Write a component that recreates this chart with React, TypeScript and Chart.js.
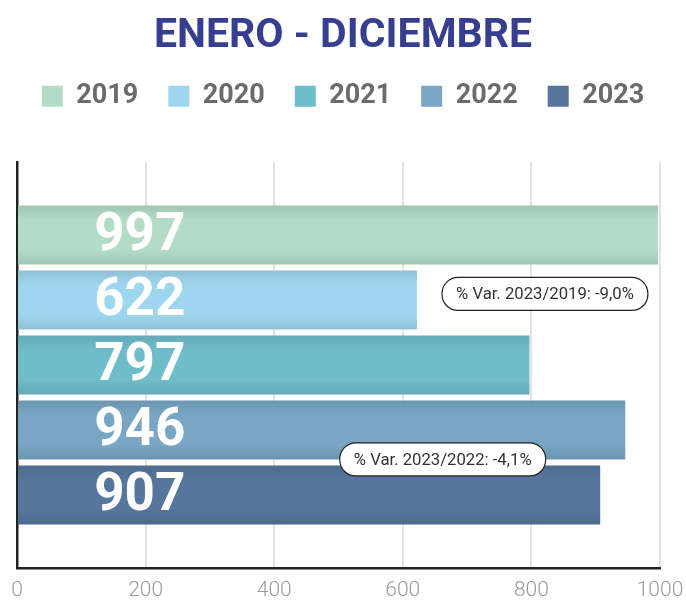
import React, { useEffect, useRef } from "react";
import { Chart, registerables } from "chart.js";

Chart.register(...registerables);

const categories = ["Enero - Diciembre"];
const years = ["2019", "2020", "2021", "2022", "2023"];
const values = [997, 622, 797, 946, 907];
const colors = ["#b3dcc6", "#9fd6ef", "#6fbccb", "#78a6c4", "#55769d"];
const xTicks = [0, 200, 400, 600, 800, 1000];
const titleText = "ENERO - DICIEMBRE";
const notes = ["% Var. 2023/2019: -9,0%", "% Var. 2023/2022: -4,1%"];

function shade(hex: string, f: number) {
  const n = parseInt(hex.slice(1), 16);
  const r = (n >> 16) & 255, g = (n >> 8) & 255, b = n & 255;
  const m = (c: number) => Math.max(0, Math.min(255, Math.round(c * f)));
  return `rgb(${m(r)},${m(g)},${m(b)})`;
}

const legendSpacePlugin = {
  id: "legendSpace",
  beforeUpdate(chart: any) {
    const lg = chart.legend;
    if (lg && !lg._patched) {
      const f = lg.fit.bind(lg);
      lg.fit = () => {
        f();
        lg.height += 42;
      };
      lg._patched = true;
    }
  },
};

const gradientPlugin = {
  id: "barGradient",
  beforeDatasetsDraw(chart: any) {
    const ctx = chart.ctx;
    chart.data.datasets.forEach((ds: any, i: number) => {
      const meta = chart.getDatasetMeta(i);
      meta.data.forEach((el: any) => {
        const top = el.y - el.height / 2;
        const bot = el.y + el.height / 2;
        const g = ctx.createLinearGradient(0, top, 0, bot);
        const c = colors[i];
        g.addColorStop(0, shade(c, 0.9));
        g.addColorStop(0.25, c);
        g.addColorStop(0.75, c);
        g.addColorStop(1, shade(c, 0.9));
        el.options.backgroundColor = g;
      });
    });
  },
};

const labelPlugin = {
  id: "valueLabels",
  afterDatasetsDraw(chart: any) {
    const ctx = chart.ctx;
    const xs = chart.scales.x;
    ctx.save();
    ctx.font = "bold 53px Roboto";
    ctx.fillStyle = "#ffffff";
    ctx.textAlign = "left";
    ctx.textBaseline = "middle";
    chart.data.datasets.forEach((ds: any, i: number) => {
      const el = chart.getDatasetMeta(i).data[0];
      ctx.fillText(String(ds.data[0]), xs.getPixelForValue(120), el.y + 2);
    });
    ctx.restore();
  },
};

function roundRect(ctx: CanvasRenderingContext2D, x: number, y: number, w: number, h: number, r: number) {
  ctx.beginPath();
  ctx.moveTo(x + r, y);
  ctx.lineTo(x + w - r, y);
  ctx.arc(x + w - r, y + r, r, -Math.PI / 2, 0);
  ctx.lineTo(x + w, y + h - r);
  ctx.arc(x + w - r, y + h - r, r, 0, Math.PI / 2);
  ctx.lineTo(x + r, y + h);
  ctx.arc(x + r, y + h - r, r, Math.PI / 2, Math.PI);
  ctx.lineTo(x, y + r);
  ctx.arc(x + r, y + r, r, Math.PI, Math.PI * 1.5);
  ctx.closePath();
}

const notePlugin = {
  id: "notes",
  afterDraw(chart: any) {
    const ctx = chart.ctx;
    const xs = chart.scales.x;
    const bars = years.map((_, i) => chart.getDatasetMeta(i).data[0]);
    const anchors = [
      { text: notes[0], xv: 661, y: bars[1].y - 6 },
      { text: notes[1], xv: 502, y: (bars[3].y + bars[4].y) / 2 - 3 },
    ];
    ctx.save();
    ctx.font = "16.7px Roboto";
    anchors.forEach((a) => {
      const tw = ctx.measureText(a.text).width;
      const w = tw + 28;
      const h = 33;
      const x = xs.getPixelForValue(a.xv);
      const y = a.y - h / 2;
      roundRect(ctx, x, y, w, h, 16);
      ctx.fillStyle = "#ffffff";
      ctx.fill();
      ctx.lineWidth = 1.2;
      ctx.strokeStyle = "#222222";
      ctx.stroke();
      ctx.fillStyle = "#333333";
      ctx.textAlign = "left";
      ctx.textBaseline = "middle";
      ctx.fillText(a.text, x + 14, a.y + 1);
    });
    ctx.restore();
  },
};

export default function App() {
  const ref = useRef<HTMLCanvasElement>(null);
  useEffect(() => {
    document.body.style.margin = "0";
    const chart = new Chart(ref.current!, {
      type: "bar",
      data: {
        labels: categories,
        datasets: years.map((y, i) => ({
          label: y,
          data: [values[i]],
          backgroundColor: colors[i],
          borderWidth: 0,
          categoryPercentage: 0.8,
          barPercentage: 0.908,
        })),
      },
      options: {
        indexAxis: "y",
        animation: false,
        responsive: false,
        maintainAspectRatio: false,
        layout: { padding: { left: 0, right: 0, top: 0, bottom: 0 } },
        plugins: {
          title: {
            display: true,
            text: titleText,
            color: "#363f8f",
            font: { family: "Roboto", size: 41, weight: "bold", lineHeight: 0.8 },
            padding: { top: 20, bottom: 0 },
          },
          legend: {
            display: true,
            position: "top",
            labels: {
              boxWidth: 21,
              boxHeight: 21,
              padding: 30,
              color: "#6b6b6b",
              font: { family: "Roboto", size: 27, weight: "bold" },
            },
          },
          tooltip: { enabled: false },
        },
        scales: {
          x: {
            type: "linear",
            position: "bottom",
            min: 0,
            max: 1000,
            afterBuildTicks: (s: any) => {
              s.ticks = xTicks.map((v) => ({ value: v }));
            },
            afterFit: (s: any) => {
              s.height = 33;
              s.paddingRight = 26;
            },
            grid: { color: "#e2e2e2", lineWidth: 2, drawTicks: false, tickLength: 0 },
            border: { display: true, color: "#222222", width: 2.5 },
            ticks: {
              color: "#9a9a9a",
              padding: 10,
              font: { family: "Roboto", size: 21, weight: "300" },
              callback: (v: any) => String(v),
            },
          },
          y: {
            type: "category",
            grid: { display: false },
            border: { display: true, color: "#222222", width: 2.5 },
            ticks: { display: false },
            afterFit: (s: any) => {
              s.width = 17;
            },
          },
        },
      },
      plugins: [legendSpacePlugin, gradientPlugin, labelPlugin, notePlugin],
    } as any);
    return () => chart.destroy();
  }, []);
  return (
    <div style={{ width: 686, height: 601 }}>
      <canvas ref={ref} width={686} height={601} />
    </div>
  );
}
